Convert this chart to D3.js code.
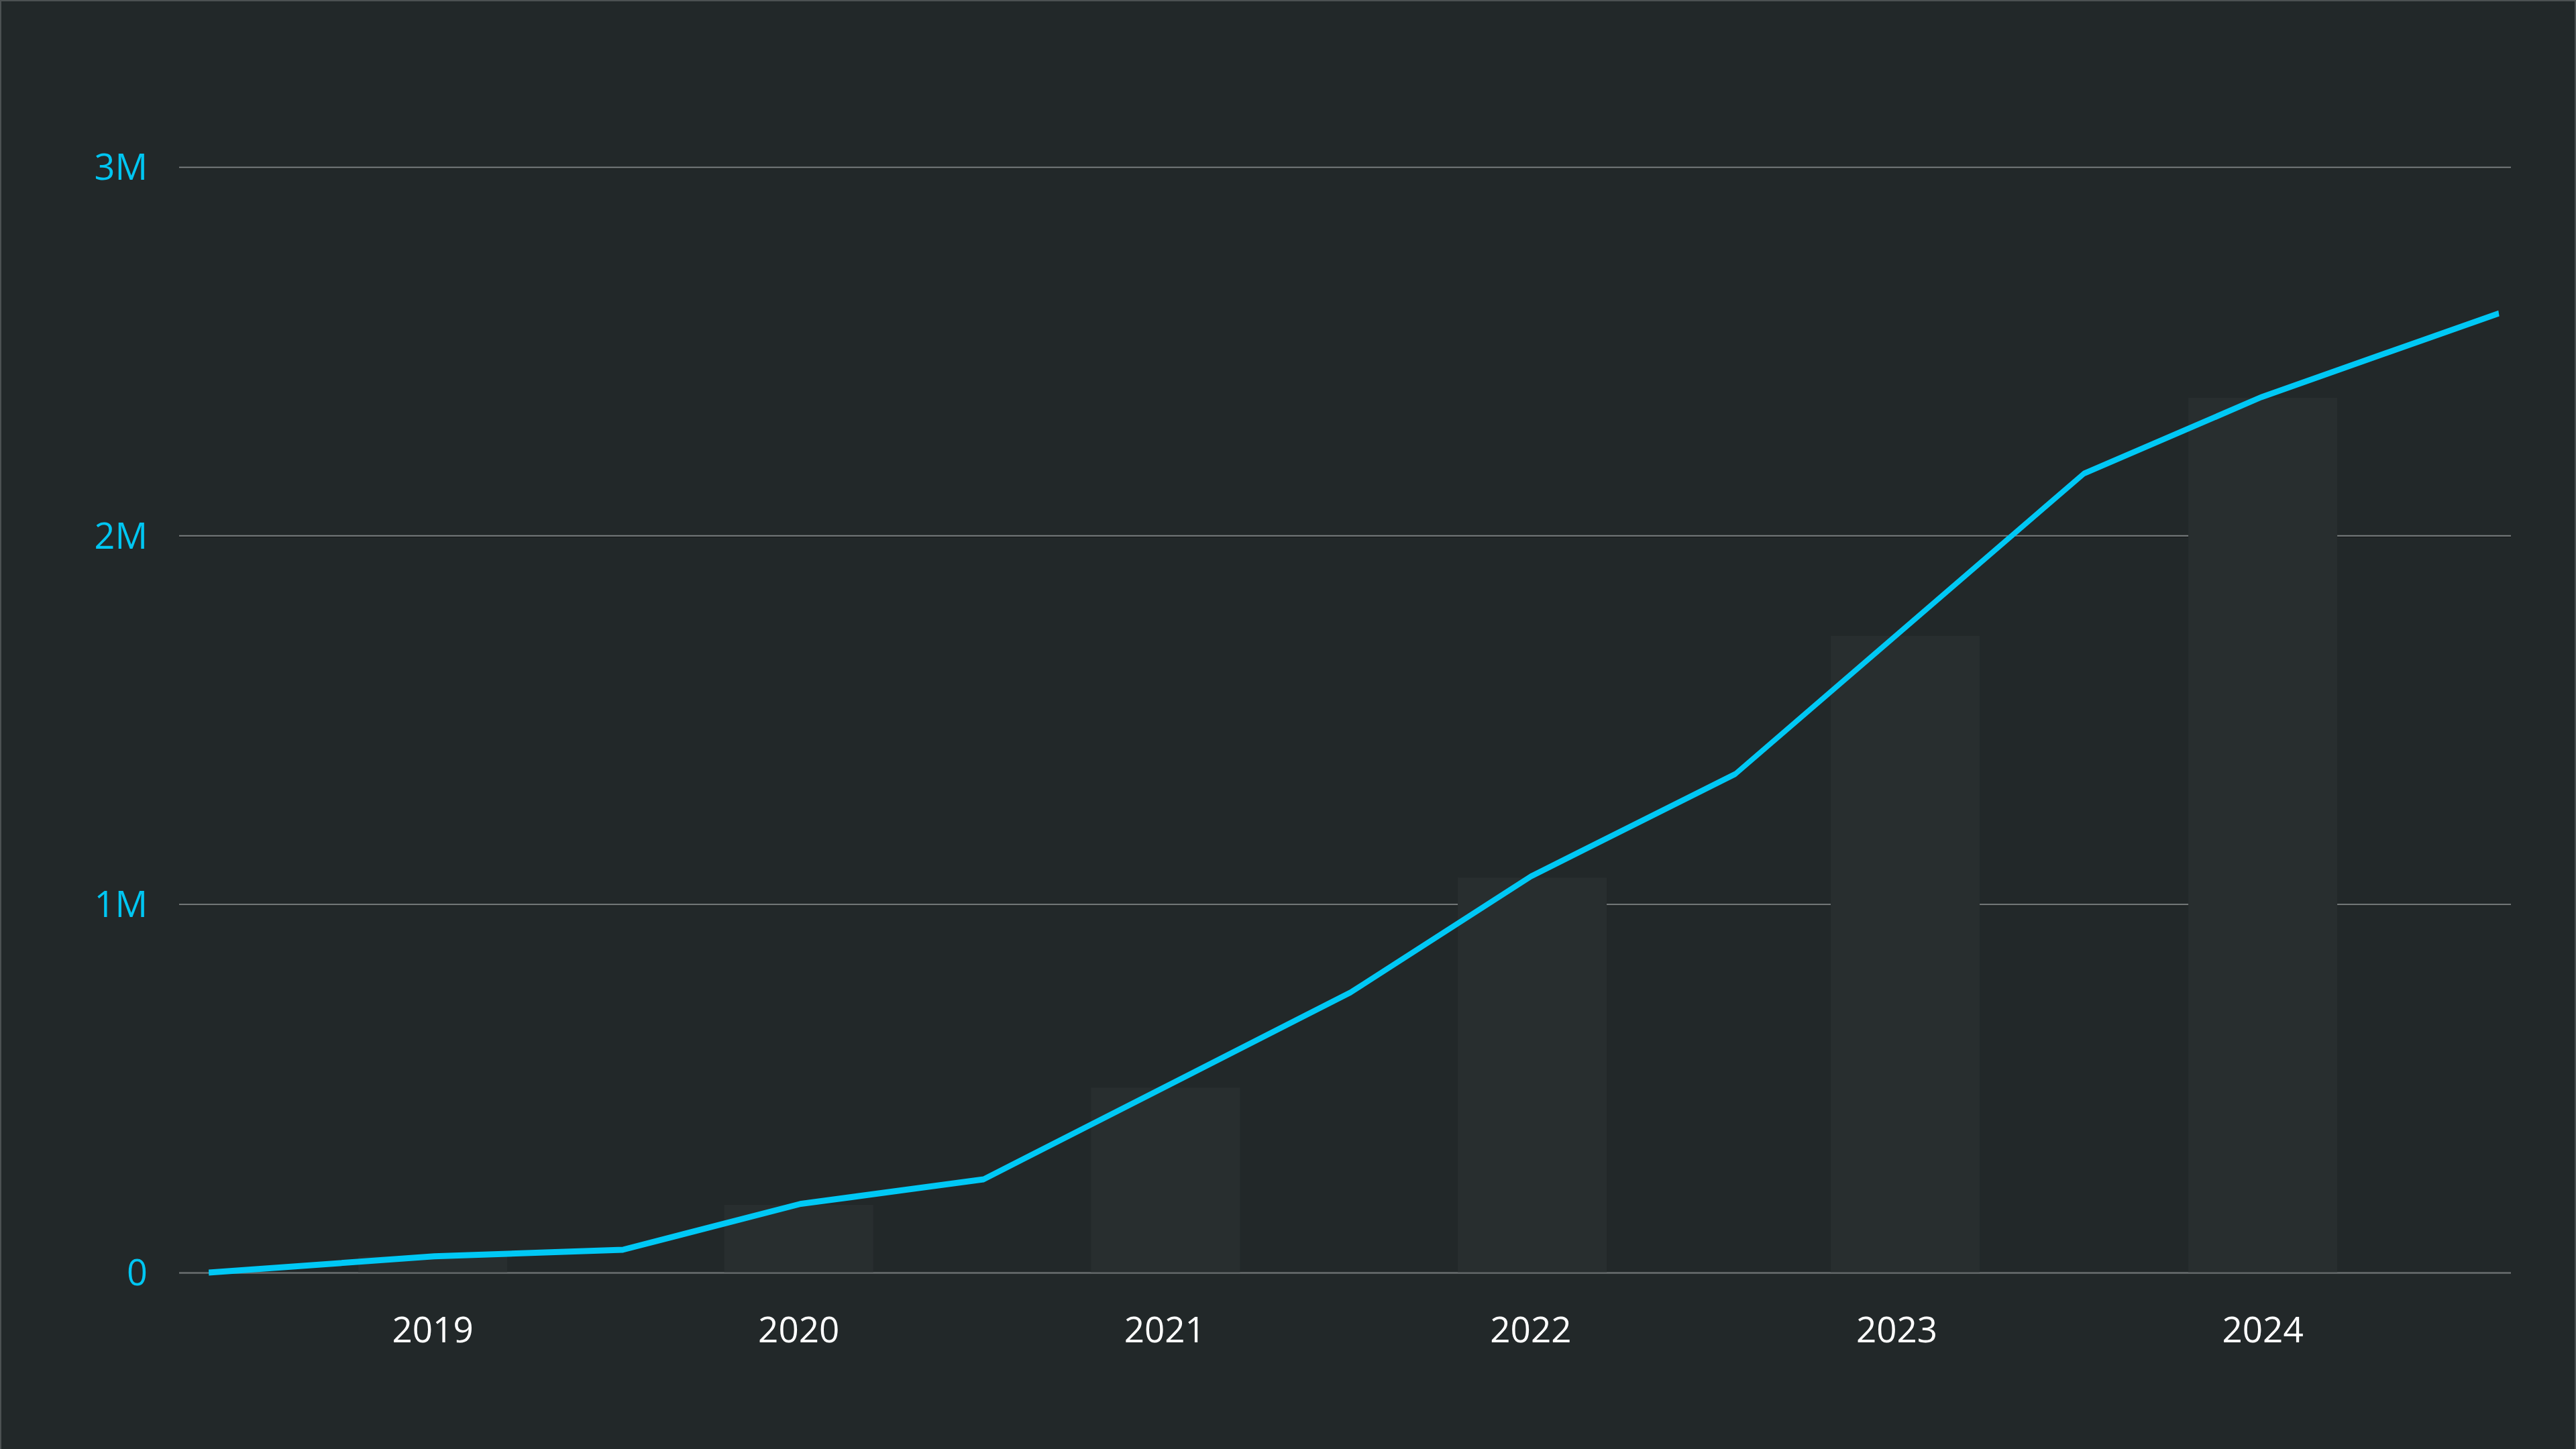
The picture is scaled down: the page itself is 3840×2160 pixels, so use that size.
<!DOCTYPE html>
<html>
<head>
<meta charset="utf-8">
<script src="https://cdn.jsdelivr.net/npm/d3@7"></script>
<style>
  html, body { margin: 0; padding: 0; background: #222829; }
  svg { display: block; }
  text { font-family: "Open Sans", "Noto Sans", sans-serif; }
</style>
</head>
<body>
<svg id="chart" width="3840" height="2160"></svg>
<script>
// ---- data ----
const years = [2019, 2020, 2021, 2022, 2023, 2024];
const barDates = [2019.5, 2020.5, 2021.502, 2022.504, 2023.523, 2024.5];
const barValues = [44000, 184000, 502000, 1072000, 1728000, 2374000];
const lineDates = [2018.888, 2019.504, 2020.02, 2020.503, 2021.005, 2022.009, 2022.502, 2023.059, 2024.011, 2024.497, 2025.145];
const lineValues = [0, 44000, 62000, 186000, 253000, 761000, 1076000, 1353000, 2168000, 2376000, 2603000];
const yTicks = [0, 1000000, 2000000, 3000000];
const yTickLabels = ["0", "1M", "2M", "3M"];

// ---- layout ----
(function () {
const W = 3840, H = 2160;
const plotLeft = 267, plotRight = 3743, plotTop = 249, plotBottom = 1897;
const svg = d3.select("#chart");

svg.append("rect").attr("x", 0).attr("y", 0).attr("width", W).attr("height", H).attr("fill", "#222829");
svg.append("rect").attr("x", 1).attr("y", 1).attr("width", W - 2).attr("height", H + 10)
  .attr("fill", "none").attr("stroke", "#4c5152").attr("stroke-width", 2);

const x = d3.scaleLinear().domain([2018.807, 2025.178]).range([plotLeft, plotRight]);
const y = d3.scaleLinear().domain([0, 3000000]).range([plotBottom, plotTop]);

// gridline shadows
svg.append("g").selectAll("line").data(yTicks.filter(d => d > 0)).join("line")
  .attr("x1", plotLeft).attr("x2", plotRight)
  .attr("y1", d => y(d) + 1.8).attr("y2", d => y(d) + 1.8)
  .attr("stroke", "#131617").attr("stroke-width", 1.5);

// gridlines + y labels
const yAxis = d3.axisLeft(y).tickValues(yTicks)
  .tickFormat((d, i) => yTickLabels[i])
  .tickSize(-(plotRight - plotLeft)).tickPadding(47);
const gy = svg.append("g").attr("transform", `translate(${plotLeft},0)`).call(yAxis);
gy.select(".domain").remove();
gy.selectAll(".tick line").attr("stroke", "#7b8081").attr("stroke-width", 2);
gy.selectAll(".tick text").attr("fill", "#00c6f2").attr("font-size", 54)
  .attr("dy", "0.35em").attr("font-family", '"Open Sans", sans-serif');

// bars
const halfBar = 0.2035;
svg.append("g").selectAll("rect").data(barDates).join("rect")
  .attr("x", d => x(d - halfBar))
  .attr("width", d => x(d + halfBar) - x(d - halfBar))
  .attr("y", (d, i) => y(barValues[i]))
  .attr("height", (d, i) => y(0) - y(barValues[i]))
  .attr("fill", "#282e2f");

// baseline over bars
svg.append("line").attr("x1", plotLeft).attr("x2", plotRight).attr("y1", y(0) + 0.5).attr("y2", y(0) + 0.5)
  .attr("stroke", "#666b6c").attr("stroke-width", 2);

// x labels
svg.append("g").selectAll("text").data(years).join("text")
  .attr("x", d => x(d + 0.5))
  .attr("y", 2001)
  .attr("text-anchor", "middle")
  .attr("fill", "#ffffff")
  .attr("font-size", 53)
  .text(d => d);

// line (drawn in a vertically stretched frame, like the reference)
const k = 1.45;
const yk = d3.scaleLinear().domain([0, 3000000]).range([plotBottom / k, plotTop / k]);
const pts = lineDates.map((d, i) => [d, lineValues[i]]);
svg.append("g").attr("transform", `scale(1,${k})`)
  .append("path").datum(pts)
  .attr("d", d3.line().x(d => x(d[0])).y(d => yk(d[1])))
  .attr("fill", "none")
  .attr("stroke", "#00c8f5")
  .attr("stroke-width", 6.2)
  .attr("stroke-linejoin", "round");
})();
</script>
</body>
</html>
